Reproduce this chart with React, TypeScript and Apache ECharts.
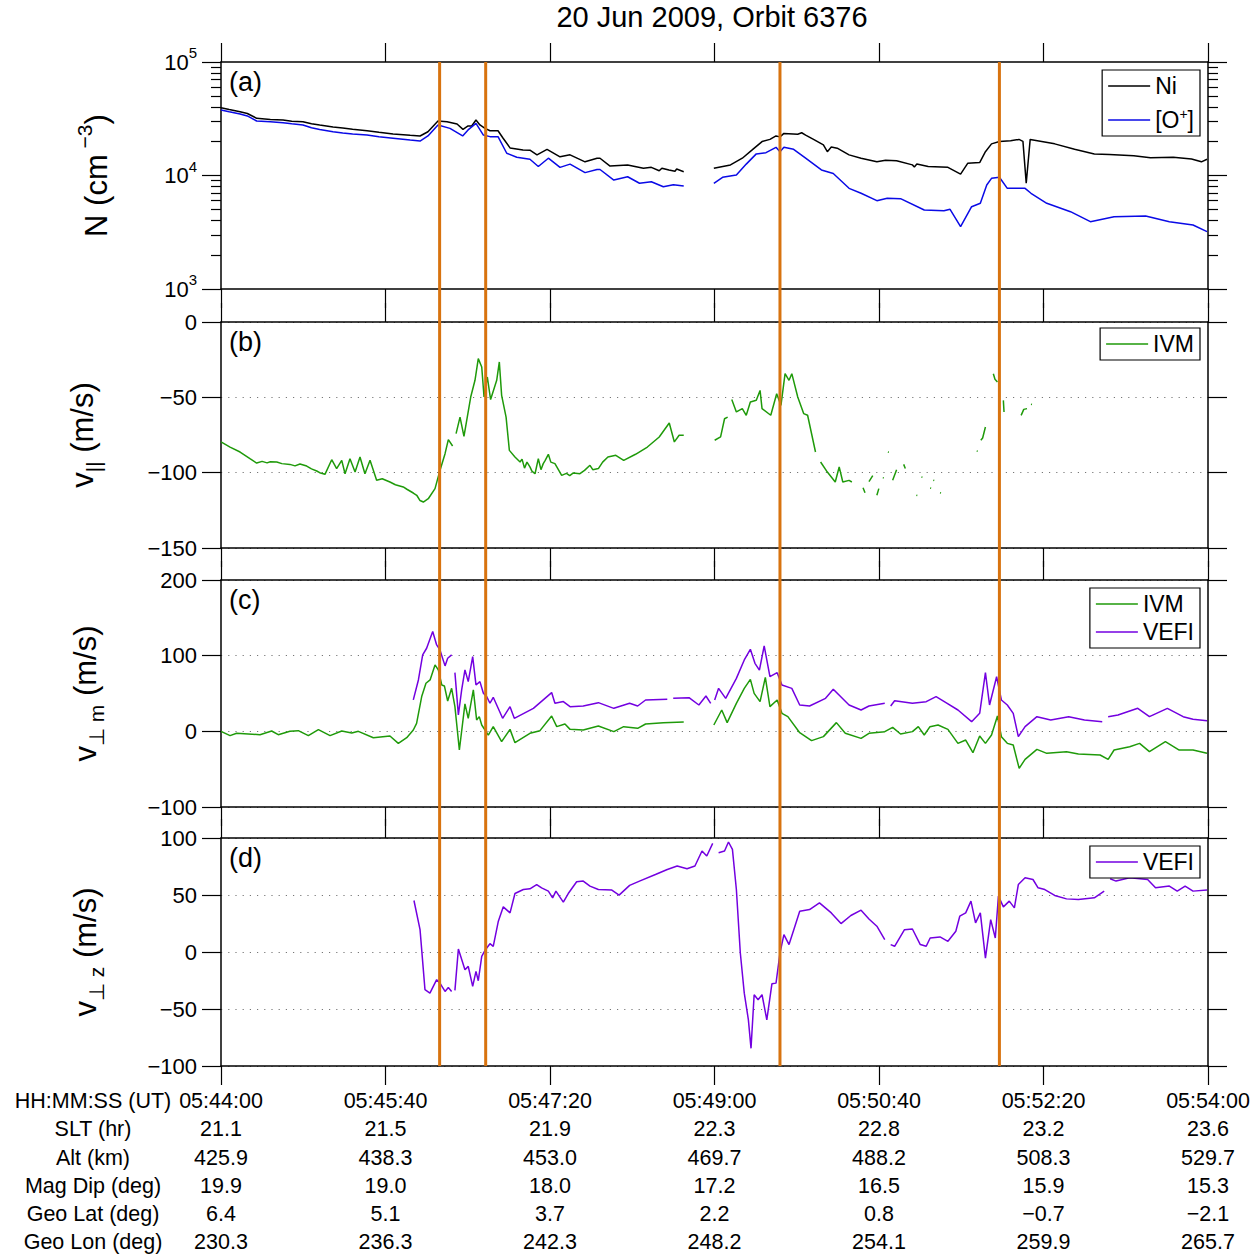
import React, { useEffect, useRef } from 'react';
import * as echarts from 'echarts';

// ---------------- DATA ----------------
// time axis: seconds after 05:44:00 UT
const tickSeconds = [0, 100, 200, 300, 400, 500, 600];
const timeLabels = ['05:44:00', '05:45:40', '05:47:20', '05:49:00', '05:50:40', '05:52:20', '05:54:00'];
const sltValues = ['21.1', '21.5', '21.9', '22.3', '22.8', '23.2', '23.6'];
const altValues = ['425.9', '438.3', '453.0', '469.7', '488.2', '508.3', '529.7'];
const magDipValues = ['19.9', '19.0', '18.0', '17.2', '16.5', '15.9', '15.3'];
const geoLatValues = ['6.4', '5.1', '3.7', '2.2', '0.8', '\u22120.7', '\u22122.1'];
const geoLonValues = ['230.3', '236.3', '242.3', '248.2', '254.1', '259.9', '265.7'];
const rowTitles = ['HH:MM:SS (UT)', 'SLT (hr)', 'Alt (km)', 'Mag Dip (deg)', 'Geo Lat (deg)', 'Geo Lon (deg)'];

const logMajorTicks = [1000, 10000, 100000];
const logMinorTicks = [2000, 3000, 4000, 5000, 6000, 7000, 8000, 9000, 20000, 30000, 40000, 50000, 60000, 70000, 80000, 90000];

const eventTimes = [132.9, 160.9, 339.8, 473.2];

// (a) densities, cm^-3
const niDensity: (number | null)[][] = [
  [0, 39600], [5, 38200], [11.6, 36500], [16, 35200], [21.7, 31900], [30, 31200], [37.7, 30800], [43, 30100],
  [49.8, 29800], [55, 28600], [60, 27800], [68.1, 26700], [74, 26200], [80, 25600], [88.8, 24800], [96, 24000],
  [104.6, 23200], [115, 22600], [121.0, 22300], [125.8, 24300], [131.9, 30200],
  [137.4, 29800], [143.5, 28400], [147.1, 25500], [150.2, 27300], [152.4, 27300], [155.0, 30800], [157.4, 27900],
  [160.5, 26000], [163.5, 24800], [168.4, 24800], [171.4, 21400], [175.7, 17500], [183.6, 16800], [187.8, 16700],
  [192.1, 15200], [198.2, 17000], [206.1, 14600], [212.2, 15200], [221.3, 13200], [228.6, 14200], [230.4, 14200],
  [236.5, 12100], [247.2, 12400], [256.8, 11600], [261.6, 11800], [266.4, 11000], [268, 11600], [272.3, 11200],
  [276, 10900], [277, 11400], [281.3, 10800],
  [290, null], [299.6, 11600], [309.7, 12400], [316.9, 14200], [322.9, 16800], [328.9, 19900], [333.7, 20800],
  [337.4, 22300], [339.8, 21900], [342.2, 23500], [350.6, 23100], [353, 23800], [355.4, 22700], [360.2, 20800],
  [366.2, 18600], [368.6, 16200], [371, 17800], [374.6, 17400], [381.8, 15200], [389.1, 14200], [398.7, 13200],
  [404, 13600], [410.7, 13500], [420.3, 12400], [421.5, 11900], [423, 12600], [429.9, 12000], [441.9, 11800],
  [449.6, 10300], [453.9, 12800], [461.2, 13000], [464.7, 16200],
  [468.4, 19000], [473.2, 19900], [480, 20200], [485.1, 20800], [487.5, 20000], [489.5, 8540], [491.9, 20800],
  [506.8, 19000], [518.9, 17000], [530.9, 15500], [540, 15300], [554.9, 14900], [565, 14300], [578.9, 14500],
  [590, 14000], [596, 13200], [599.4, 13900],
];
const oPlusDensity: (number | null)[][] = [
  [0, 37800], [5, 36400], [11.6, 34800], [16, 33500], [21.7, 30200], [30, 29800], [37.7, 29200], [43, 28600],
  [49.8, 27900], [55, 26300], [60, 25400], [68.1, 24300], [74, 23700], [80, 23200], [88.8, 22700], [96, 21900],
  [104.6, 21300], [115, 20500], [121.0, 20100], [125.8, 22300], [131.9, 27900], [139.2, 26000], [146.9, 22300],
  [150.2, 25200],
  [155.0, 28800], [159.5, 22700], [163.5, 22000], [168.4, 22000], [173.7, 15700], [179.8, 14500], [187.8, 13900],
  [192.9, 12000], [199.0, 14200], [206.1, 11800], [212.2, 12600], [221.3, 10600], [228.6, 11300], [230.4, 11300],
  [238.8, 9120], [247.2, 9750], [254.4, 8540], [261.6, 8810], [268.9, 7960], [275, 8300], [281.3, 8080], [290, null],
  [299.6, 8540], [304.9, 9640], [313.3, 10100], [319.3, 12600], [325.4, 15500], [331.3, 15900], [337.4, 17700],
  [339.8, 16200], [342.2, 17700], [348.1, 17000], [355.4, 14200], [365.0, 11200], [372.2, 10400], [381.8, 7710],
  [389.1, 6970], [398.7, 6000], [405, 6300], [413.1, 6250], [427.5, 4970], [439.5, 4900], [443.2, 5040],
  [449.6, 3540],
  [456.3, 5310], [461.6, 5690], [465.5, 8250], [468.4, 9440], [473.2, 9640], [478.0, 7710], [488.8, 7710],
  [492.4, 6970], [502.0, 5690], [516.4, 4800], [528.5, 3920], [542.9, 4340], [562.1, 4400], [576.5, 3920],
  [590.9, 3660], [599.4, 3200],
];

// (b) IVM parallel drift, m/s
const ivmParallel: (number | null)[][] = [
  [0, -79.6], [5.5, -83], [11.6, -86.3], [17.6, -90.7], [21.7, -93.6], [25, -92.5], [28, -93.5], [30, -92.8],
  [33.9, -92.9], [37, -94], [41.9, -94.5], [45, -95.5], [48, -94.2], [52.1, -95.6], [55, -97.5],
  [58.2, -98.9], [60, -100], [63.2, -101.1], [67.3, -91.4], [70.3, -97.3], [73.4, -91.8], [75.4, -100.7],
  [78.4, -90.7], [81.5, -99.6], [84.5, -89.6], [87.5, -100.7], [90.6, -91.8], [94.6, -105], [98, -104],
  [102.7, -106.2], [106, -108], [110.8, -109.5], [113, -111],
  [116.9, -113.5], [119, -115], [121, -118.5], [123.0, -119.5], [126.0, -117.3], [130.1, -110.6], [133.1, -98.5],
  [136.2, -87.4],
  [138.2, -78.1], [140.8, -82.3], [141.8, null], [142.9, -74.1], [145.3, -63.1], [147.7, -75.9], [151.8, -49.8],
  [154.4, -38.7], [156.4, -24.3], [158.5, -29.9], [159.9, -49.8], [161.9, -36.5], [163.9, -51.5], [167.6, -38.7],
  [169.2, -26.5], [170.6, -48.7], [173.3, -63.1], [175.3, -85.2], [178.7, -89.6], [181.8, -92.9], [183, -91],
  [184.5, -97], [186, -93], [187.8, -96.2], [189, -99],
  [190.9, -100.7], [192.9, -90.7], [194.5, -98], [195.9, -94], [197, -92], [199, -87.8], [200.5, -93], [203, -94],
  [207.1, -101.8], [210, -100.5], [212, -102], [214.2, -100.2],
  [218.2, -100.7], [221, -98.5], [224.3, -95.1], [226, -98], [229.4, -97.3], [232, -93], [235.2, -89.6],
  [240.0, -88.5], [244.8, -91.8], [252.0, -87.8],
  [259.2, -83], [266.4, -76.3], [272.5, -67], [275.6, -79.6], [278.5, -75.2], [281.3, -75.2], [290, null],
  [300.1, -78.5], [303.7, -76.3], [306.1, -64.2], [308, -63.1], [309.2, null], [310.5, -51.5], [313.3, -59.7],
  [316.9, -57.5], [319.3, -61.9], [321.8, -53.1], [325.4, -52], [327.7, -45.4], [328.9, -57.5], [334.2, -61.9],
  [337.8, -47.6], [340.4, -55.3], [342.9, -34.3], [345.3, -38.7], [347.0, -34.3], [350.6, -49.8], [354.2, -60.8],
  [356.6, -61.9], [361.4, -86.3], [362.9, null], [364.5, -92.9], [368.6, -99.6], [373.4, -106.2], [375.8, -96.2],
  [378, -106.2], [381.8, -105.1], [383.5, -106.2], [385, null], [390.3, -110], [391.5, -113.3], [392.5, null],
  [393.9, -106], [396.2, -102], [397, null], [398.7, -115], [399.9, -110.6], [401, null], [402.3, -103.3],
  [402.9, -103.5], [403.5, null], [405.4, -86.3], [406, -86.5], [407, null], [408.3, -105], [410.7, -98],
  [411.5, null], [415.0, -94.5], [416.0, -97.3], [417, null], [422.7, -115], [423.3, -115.2], [424, null],
  [425.8, -102.9], [426.4, -103.1], [427, null], [431.1, -110.2], [431.7, -110.4], [432.2, null], [433.0, -105],
  [433.6, -105.2], [434.5, null], [437.1, -113.3], [437.7, -113.5], [440, null], [459.4, -85.6], [460, -85.8],
  [460.8, null], [461.9, -78.5], [463, -77], [464.7, -69.7], [466, null], [469.5, -34.3], [470.5, -38],
  [472.0, -39.8], [473.5, null], [475.6, -52], [476, -59.7], [477, null], [486.4, -62], [488, -58], [490.0, -57.5],
  [491, null], [492.4, -54.6], [493, -54.8], [494, null],
];

// (c) perpendicular meridional drift, m/s
const ivmPerpM: (number | null)[][] = [
  [0, 0], [5.5, -5.7], [9.5, -2.6], [23.7, -4.4], [30.8, 0.4], [34.8, -4.4], [41.9, 0], [47, 0.9], [53.1, -5.7],
  [59.2, 2.2], [66.3, -5.7], [73.4, 0.4], [79.5, -2.2], [83.5, 0], [92.6, -8.4], [102.7, -6.2], [107.8, -15.9],
  [112.9, -8.4], [116.9, 1.8], [118.9, 10.6], [122, 45.9], [124.6, 63.5], [127.1, 67.9], [130.1, 87.8],
  [132.1, 81.2], [134.2, 61.3], [135.8, 60], [137.8, 40.1], [140.2, 56.9], [142.2, 32.6], [144.9, -24.7],
  [148.3, 36.2], [150.3, 17.2], [153.4, 54.7], [155.4, 15], [157, 19.4], [158.5, 8.4], [160.5, 1.8], [162.5, -4.9],
  [165.5, 6.2], [170.6, -13.7], [175.7, 2.6], [178.7, -15], [187.8, -2.6], [193.9, 0.9], [201, 20.3], [204.1, 6.2],
  [209.1, 9.7], [212.2, 2.6], [220.2, 1.8], [229.4, 7.1], [238.8, -0.4], [244.8, 6.2], [253.3, 4], [258.1, 9.7],
  [268.9, 11.5], [281.3, 12.3], [290, null], [299.6, 8.4], [304.4, 28.2], [307.7, 11.5], [313.3, 37],
  [318.1, 56.8], [321.8, 68.7], [324.1, 50.2], [327.7, 39.2], [330.9, 71.4], [333.7, 32.6], [338.1, 41.4],
  [341, 23.8], [344.6, 19.4], [351.8, -1.8], [359, -12.3], [366.2, -7], [374.1, 11.5], [379.5, -2.6], [389.1, -9.3],
  [393.9, -2.6], [403.5, -0.4], [408.3, 5.3], [413.1, -3.5], [420.3, -0.4], [423.9, 6.2], [427.5, -4.8], [431, 6.2],
  [435.9, 8.4], [441.9, 2.6], [448, -15.9], [452.7, -11.5], [457.1, -28.2], [461.2, -6.2], [464.7, -15.9],
  [468.4, -4.8], [472, 20.3], [474.4, -7], [478, -15.9], [481.6, -18.1], [485.2, -48.9], [488.8, -37], [496, -23.8],
  [502, -29.1], [514, -26.9], [521.2, -30], [534.4, -31.3], [539.3, -37], [542.9, -24.7], [552.4, -20.3],
  [558.4, -15.9], [564.4, -26.9], [574.1, -13.7], [582.5, -24.7], [590.9, -24.7], [599.4, -29.1],
];
const vefiPerpM: (number | null)[][] = [
  [116.9, 41.5], [120, 67.9], [122.6, 101], [125, 109.8], [128.7, 131.9], [131.1, 114.2], [133.1, 107.6],
  [136.2, 86.5], [137.8, 96.6], [140.2, 101], [141.2, null], [142.2, 77.6], [144.3, 21.6], [146.3, 54.7],
  [148.3, 81.2], [150.3, 65.7], [153, 98.8], [155, 61.3], [157.4, 65.7], [159.5, 50.3], [161.5, 45.9],
  [163.5, 37.1], [165.5, 45], [171.2, 17.2], [175.7, 32.6], [178.3, 17.2], [189.9, 30.4], [201, 51.2], [203, 37.1],
  [208.1, 39.3], [212.2, 32.6], [220.2, 33.5], [229.4, 37.9], [238.8, 30.4], [248.4, 37], [253.3, 33.5],
  [258.1, 41.4], [271.3, 42.3], [272.3, null], [274.9, 43.6], [284.5, 44.5], [290.5, 34.8], [294.8, 46.7],
  [297.7, 37], [298.8, null], [300.1, 41.4], [302.5, 56.8], [306.8, 43.6], [313.3, 70], [318.1, 94.3],
  [321.8, 108.4], [324.6, 89.9], [327.3, 81], [330.2, 112.8], [333.7, 72.2], [338.1, 77.5], [341, 61.2],
  [347, 56.8], [351.8, 34.8], [357.8, 33.5], [367.5, 43.6], [372.2, 55.5], [381.8, 34.8], [389.1, 28.2],
  [393.9, 33.5], [403.5, 37], [405, null], [407.1, 33.5], [409.5, 40.5], [420.3, 37], [428.7, 39.2], [434.7, 45.8],
  [440.7, 37.9], [448, 28.2], [456.3, 12.8], [461.2, 23.8], [464.7, 77.5], [467.2, 34.8], [471.5, 72.2],
  [474.4, 41.4], [478, 34.8], [481.6, 23.8], [484.7, -7], [488.8, 6.2], [496, 19.4], [504.4, 15], [515.3, 19.4],
  [524.9, 15], [535.7, 12.8], [537, null], [539.3, 19.4], [545.3, 21.6], [557.3, 30.4], [564.4, 19.4],
  [575.3, 30.4], [584.9, 19.4], [590.9, 15.9], [599.4, 14.1],
];

// (d) perpendicular zonal drift, m/s
const vefiPerpZ: (number | null)[][] = [
  [117.3, 45.2], [121, 19.6], [124, -33.1], [127, -36.1], [131.1, -24.3], [133.1, -27.3], [136.2, -34.6],
  [138.2, -31.1], [140.2, -34.6], [141.2, null], [142.2, -33.7], [144.3, 2.6], [148.3, -15.5], [150.3, -12.6],
  [153, -30.2], [155, -17], [156.4, -25.2], [158.5, -3.8], [160.5, 1.5], [163.5, 7.3], [165.5, 5], [168.6, 27],
  [171.6, 39.6], [175.7, 34.3], [178.7, 51.3], [183.8, 54.8], [187.8, 55.4], [191.9, 59.2], [194.9, 56.3],
  [199, 53.4], [201.6, 47.5], [203.6, 53.4], [208.1, 43.7], [211.1, 51.3], [216.2, 61.6], [220.2, 62.2],
  [224.3, 57.8], [229.4, 54.8], [237.6, 54.3], [242, 49.9], [248.4, 58.4], [254.4, 62.2], [264.1, 68],
  [271.3, 72.4], [277.3, 75.4], [283.3, 73], [288.1, 75.4], [292.4, 88.6], [295.3, 84.2], [298.9, 95.3],
  [299.9, null], [302.5, 87.1], [306.1, 88.6], [308.5, 96.5], [310.9, 90], [313.3, 54.8], [315.7, -0.9],
  [318.1, -36.1], [320.6, -59.5], [322.2, -84.5], [324.1, -37.5], [326.5, -41.9], [328.9, -37.5], [331.8, -59.5],
  [334.9, -27.9], [337.4, -27.3], [339.8, -0.9], [342.2, 15.2], [345.3, 6.5], [348.2, 19.6], [351.8, 35.8],
  [357.8, 37.2], [363.8, 43.1], [371, 34.3], [376.9, 24.9], [382.9, 32], [389.1, 36.7], [393.9, 29], [398.7, 22.6],
  [403.5, 10.9], [405, null], [407.1, 6.5], [409.5, 5], [415.5, 19.6], [420.3, 20.2], [425.1, 6.5], [428.7, 5],
  [431.1, 12.3], [437.1, 13.2], [441.9, 9.4], [446.7, 18.2], [449.1, 31.4], [452.7, 34.3], [455.9, 44.6],
  [458.7, 25.5], [461.6, 34.3], [464.7, -5.3], [467.9, 28.4], [470.7, 12.3], [472.6, 49], [475.6, 39.6],
  [479.2, 44.6], [482.3, 38.7], [484.7, 59.2], [488.8, 65.1], [493.6, 63.6], [496.7, 56.3], [500.8, 54.8],
  [506.8, 49.6], [514, 46.6], [521.2, 46], [530.9, 47.5], [536.9, 53.4], [538, null], [540.5, 64.2],
  [544.1, 62.2], [552.4, 65.1], [563.3, 63.6], [568.1, 56.3], [576.5, 57.8], [581.3, 53.4], [586.1, 57.8],
  [590.9, 53.4], [599.4, 54.3],
];

// ---------------- STYLE / LAYOUT ----------------
const FONT = '"Liberation Sans", Arial, Helvetica, sans-serif';
const BLACK = '#000000';
const BLUE = '#0a0ae6';
const GREEN = '#1f9a0a';
const PURPLE = '#7300e0';
const ORANGE = '#d8730f';

const GRID_LEFT = 221;
const GRID_WIDTH = 987;
const PANELS = [
  { top: 62, height: 227, label: '(a)' },
  { top: 322, height: 226, label: '(b)' },
  { top: 580, height: 227, label: '(c)' },
  { top: 838, height: 228, label: '(d)' },
];

const axisLineStyle = { color: BLACK, width: 1.5 };
const tickLineStyle = { color: BLACK, width: 1.2 };
const fmtNum = (v: number) => (v < 0 ? '\u2212' + Math.abs(v) : String(v));

const nameRich = {
  n: { fontSize: 31, lineHeight: 44, fontFamily: FONT, color: BLACK },
  s: { fontSize: 21, lineHeight: 22, verticalAlign: 'top', fontFamily: FONT, color: BLACK },
  b: { fontSize: 21, lineHeight: 22, verticalAlign: 'bottom', fontFamily: FONT, color: BLACK },
};

function buildOption() {
  const grid: any[] = PANELS.map((p) => ({
    left: GRID_LEFT, width: GRID_WIDTH, top: p.top, height: p.height, outerBoundsMode: 'none', containLabel: false,
  }));
  grid.push({ left: GRID_LEFT, width: GRID_WIDTH, top: 62, height: 1004, outerBoundsMode: 'none', containLabel: false });

  const xAxis: any[] = [];
  PANELS.forEach((_p, i) => {
    ['bottom', 'top'].forEach((pos) => {
      const showLabels = i === 3 && pos === 'bottom';
      xAxis.push({
        type: 'value', gridIndex: i, position: pos, min: 0, max: 600, interval: 100,
        axisLine: { show: true, onZero: false, lineStyle: axisLineStyle },
        axisTick: { show: true, inside: false, length: 19, lineStyle: tickLineStyle },
        splitLine: { show: false },
        axisLabel: showLabels
          ? {
              show: true, margin: 21, fontSize: 21.5, lineHeight: 28.2, color: BLACK, fontFamily: FONT,
              align: 'center', verticalAlign: 'top', showMinLabel: true, showMaxLabel: true,
              formatter: (v: number) => {
                const k = tickSeconds.indexOf(Math.round(v));
                if (k < 0) return '';
                return [timeLabels[k], sltValues[k], altValues[k], magDipValues[k], geoLatValues[k], geoLonValues[k]].join('\n');
              },
            }
          : { show: false },
      });
    });
  });
  xAxis.push({ type: 'value', gridIndex: 4, min: 0, max: 600, show: false });

  const labelBase = { color: BLACK, fontFamily: FONT, fontSize: 22, margin: 24 };
  const yAxis: any[] = [];
  // panel (a) log axes
  yAxis.push({
    type: 'log', logBase: 10, gridIndex: 0, position: 'left', min: 1000, max: 100000,
    axisLine: { show: true, onZero: false, lineStyle: axisLineStyle },
    axisTick: { show: true, inside: false, length: 19, lineStyle: tickLineStyle, customValues: logMajorTicks },
    axisLabel: {
      ...labelBase, customValues: logMajorTicks,
      formatter: (v: number) => `{b|10}{s|${Math.round(Math.log10(v))}}`,
      rich: {
        b: { fontSize: 22, lineHeight: 34, fontFamily: FONT, color: BLACK },
        s: { fontSize: 15, lineHeight: 16, verticalAlign: 'top', fontFamily: FONT, color: BLACK },
      },
    },
    splitLine: { show: false },
    name: '{n|N (cm}{s| \u22123}{n|)}', nameLocation: 'middle', nameRotate: 90, nameGap: 103,
    nameTextStyle: { rich: nameRich },
  });
  yAxis.push({
    type: 'log', logBase: 10, gridIndex: 0, position: 'right', min: 1000, max: 100000,
    axisLine: { show: true, onZero: false, lineStyle: axisLineStyle },
    axisTick: { show: true, inside: false, length: 19, lineStyle: tickLineStyle, customValues: logMajorTicks },
    axisLabel: { show: false }, splitLine: { show: false },
  });
  // minor decade ticks: drawn on a hidden exponent-space axis (log10 of the minor tick values)
  ['left', 'right'].forEach((pos) => {
    yAxis.push({
      type: 'value', gridIndex: 0, position: pos, min: 3, max: 5,
      axisLine: { show: false, onZero: false },
      axisTick: { show: true, inside: false, length: 10, lineStyle: tickLineStyle, customValues: logMinorTicks.map((v) => Math.log10(v)) },
      axisLabel: { show: false }, splitLine: { show: false },
    });
  });
  const linearPanels = [
    { grid: 1, min: -150, max: 0, interval: 50, name: '{n|v}{b|||}{n| (m/s)}', gap: 117 },
    { grid: 2, min: -100, max: 200, interval: 100, name: '{n|v}{b|\u22a5 m}{n| (m/s)}', gap: 114 },
    { grid: 3, min: -100, max: 100, interval: 50, name: '{n|v}{b|\u22a5 z}{n| (m/s)}', gap: 114 },
  ];
  linearPanels.forEach((lp) => {
    yAxis.push({
      type: 'value', gridIndex: lp.grid, position: 'left', min: lp.min, max: lp.max, interval: lp.interval,
      axisLine: { show: true, onZero: false, lineStyle: axisLineStyle },
      axisTick: { show: true, inside: false, length: 19, lineStyle: tickLineStyle },
      axisLabel: { ...labelBase, formatter: fmtNum },
      splitLine: { show: true, lineStyle: { color: '#777777', width: 1, type: [1.2, 6] } },
      name: lp.name, nameLocation: 'middle', nameRotate: 90, nameGap: lp.gap,
      nameTextStyle: { rich: nameRich },
    });
    yAxis.push({
      type: 'value', gridIndex: lp.grid, position: 'right', min: lp.min, max: lp.max, interval: lp.interval,
      axisLine: { show: true, onZero: false, lineStyle: axisLineStyle },
      axisTick: { show: true, inside: false, length: 19, lineStyle: tickLineStyle },
      axisLabel: { show: false }, splitLine: { show: false },
    });
  });
  yAxis.push({ type: 'value', gridIndex: 4, min: 0, max: 1, show: false });

  const line = (name: string, data: any[], color: string, xi: number, yi: number) => ({
    type: 'line', name, data, xAxisIndex: xi, yAxisIndex: yi, showSymbol: false, symbol: 'none',
    connectNulls: false, silent: true, z: 3,
    lineStyle: { color, width: 1.5 }, itemStyle: { color },
  });

  const series: any[] = [
    line('Ni', niDensity, BLACK, 0, 0),
    line('O+', oPlusDensity, BLUE, 0, 0),
    line('IVM', ivmParallel, GREEN, 2, 4),
    line('IVM', ivmPerpM, GREEN, 4, 6),
    line('VEFI', vefiPerpM, PURPLE, 4, 6),
    line('VEFI', vefiPerpZ, PURPLE, 6, 8),
    {
      type: 'custom', xAxisIndex: 8, yAxisIndex: 10, z: 10, silent: true, clip: false,
      data: eventTimes.map((t) => [t, 0]),
      renderItem: (params: any, api: any) => {
        const x = api.coord([api.value(0), 0])[0];
        const cs = params.coordSys;
        return {
          type: 'line',
          shape: { x1: x, y1: cs.y, x2: x, y2: cs.y + cs.height },
          style: { stroke: ORANGE, lineWidth: 3 },
        };
      },
    },
  ];

  const legendBase = {
    orient: 'vertical', right: 60, icon: 'rect', itemWidth: 42, itemHeight: 1.6, selectedMode: false,
    borderColor: BLACK, borderWidth: 1.2, backgroundColor: '#ffffff', borderRadius: 0,
    padding: [3, 6, 3, 6], z: 20,
    textStyle: {
      fontSize: 23, lineHeight: 26, color: BLACK, fontFamily: FONT,
      rich: { s: { fontSize: 14, lineHeight: 14, verticalAlign: 'top', color: BLACK, fontFamily: FONT } },
    },
    formatter: (name: string) => (name === 'O+' ? '[O{s|+}]' : name),
  };
  const legend = [
    { ...legendBase, top: 70, itemGap: 8, data: ['Ni', 'O+'] },
    { ...legendBase, top: 328, data: ['IVM'] },
    { ...legendBase, top: 588, itemGap: 2, data: ['IVM', 'VEFI'] },
    { ...legendBase, top: 846, data: ['VEFI'] },
  ];

  const graphic: any[] = [
    {
      type: 'text', x: 712, y: 2,
      style: { text: '20 Jun 2009, Orbit 6376', fontSize: 29, fontFamily: FONT, fill: BLACK, align: 'center', textAlign: 'center', verticalAlign: 'top', textVerticalAlign: 'top' },
    },
    {
      type: 'text', x: 93, y: 1087,
      style: { text: rowTitles.join('\n'), fontSize: 21.5, lineHeight: 28.2, fontFamily: FONT, fill: BLACK, align: 'center', textAlign: 'center', verticalAlign: 'top', textVerticalAlign: 'top' },
    },
    ...PANELS.map((p) => ({
      type: 'text', x: 229, y: p.top + 6,
      style: { text: p.label, fontSize: 27, fontFamily: FONT, fill: BLACK, align: 'left', textAlign: 'left', verticalAlign: 'top', textVerticalAlign: 'top' },
    })),
  ];

  return {
    animation: false,
    backgroundColor: '#ffffff',
    textStyle: { fontFamily: FONT },
    grid, xAxis, yAxis, series, legend, graphic,
  };
}

export default function App() {
  const ref = useRef<HTMLDivElement>(null);
  useEffect(() => {
    if (!ref.current) return;
    const chart = echarts.init(ref.current, null, { renderer: 'svg' });
    chart.setOption(buildOption() as any);
    return () => chart.dispose();
  }, []);
  return (
    <div
      ref={ref}
      style={{ position: 'fixed', left: 0, top: 0, width: 1260, height: 1257, background: '#ffffff' }}
    />
  );
}
